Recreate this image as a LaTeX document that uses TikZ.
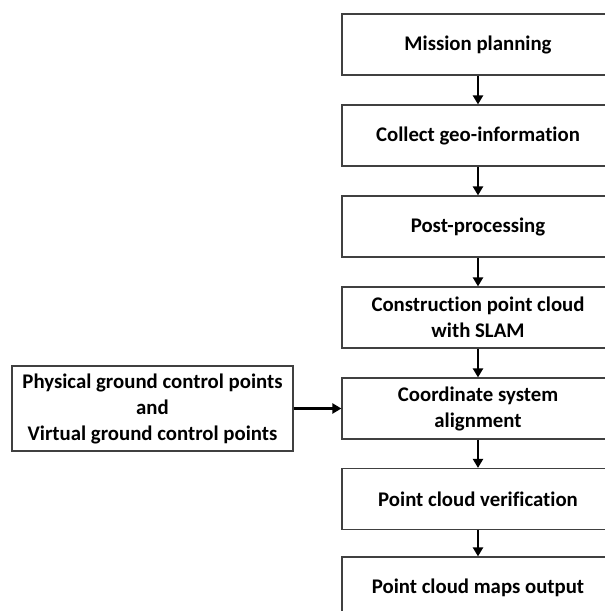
\documentclass[tikz,border=0pt]{standalone}
\usepackage{fontspec}
\setmainfont{Carlito}[Ligatures=NoCommon]
\usetikzlibrary{arrows.meta}
\begin{document}
\begin{tikzpicture}[x=1pt,y=-1pt,
  box/.style={draw=black!75, line width=1.2pt, minimum width=272pt, minimum height=61pt,
    align=center, inner sep=0pt, font=\bfseries\fontsize{20.8}{26}\selectfont},
  arr/.style={-{Triangle[length=9pt,width=10pt]}, line width=2.6pt}]
\useasboundingbox (0,0) rectangle (605,611);
\node[box] (b1) at (478,44.5) {Mission planning};
\node[box] (b2) at (478,135.5) {Collect geo-information};
\node[box] (b3) at (478,226.5) {Post-processing};
\node[box] (b4) at (478,317.5) {Construction point cloud\\with SLAM};
\node[box] (b5) at (478,408.5) {Coordinate system\\alignment};
\node[box] (b6) at (478,499) {Point cloud verification};
\node[box] (b7) at (478,587.5) {Point cloud maps output};
\node[box, minimum width=281pt, minimum height=85pt] (g) at (152.5,408.5)
  {Physical ground control points\\and\\Virtual ground control points};
\draw[arr] (b1) -- (b2);
\draw[arr] (b2) -- (b3);
\draw[arr] (b3) -- (b4);
\draw[arr] (b4) -- (b5);
\draw[arr] (b5) -- (b6);
\draw[arr] (b6) -- (b7);
\draw[arr] (g) -- (b5);
\end{tikzpicture}
\end{document}
